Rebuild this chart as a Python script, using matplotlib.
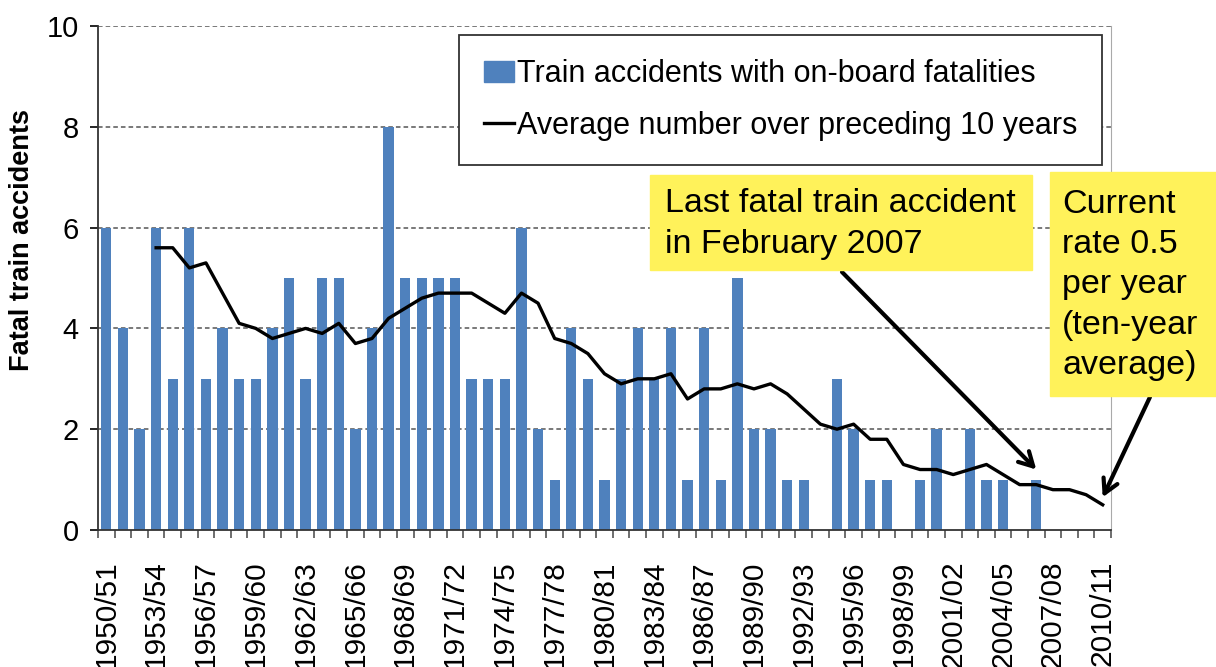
import matplotlib.pyplot as plt
import matplotlib.patches as mpatches
from matplotlib.lines import Line2D
import numpy as np

plt.rcParams['font.family'] = ['Liberation Sans', 'DejaVu Sans']

# saisons 1950/51 .. 2010/11
seasons = ["%d/%02d" % (y, (y + 1) % 100) for y in range(1950, 2011)]

# accidents mortels par saison
accidents = [6, 4, 2, 6, 3, 6, 3, 4, 3, 3,
             4, 5, 3, 5, 5, 2, 4, 8, 5, 5,
             5, 5, 3, 3, 3, 6, 2, 1, 4, 3,
             1, 3, 4, 3, 4, 1, 4, 1, 5, 2,
             2, 1, 1, 0, 3, 2, 1, 1, 0, 1,
             2, 0, 2, 1, 1, 0, 1, 0, 0, 0,
             0]

# moyenne sur les 10 annees precedentes
nan = np.nan
average = [nan, nan, nan, 5.6, 5.6, 5.2, 5.3, 4.7, 4.1, 4.0,
           3.8, 3.9, 4.0, 3.9, 4.1, 3.7, 3.8, 4.2, 4.4, 4.6,
           4.7, 4.7, 4.7, 4.5, 4.3, 4.7, 4.5, 3.8, 3.7, 3.5,
           3.1, 2.9, 3.0, 3.0, 3.1, 2.6, 2.8, 2.8, 2.9, 2.8,
           2.9, 2.7, 2.4, 2.1, 2.0, 2.1, 1.8, 1.8, 1.3, 1.2,
           1.2, 1.1, 1.2, 1.3, 1.1, 0.9, 0.9, 0.8, 0.8, 0.7,
           0.5]

W, H = 1216, 667
fig = plt.figure(figsize=(W / 100, H / 100), dpi=100)
ax = fig.add_axes([98 / W, (H - 530) / H, (1111 - 98) / W, (530 - 26) / H])

x = np.arange(len(seasons))
ax.bar(x, accidents, width=0.62, color='#4F81BD', zorder=2)
ax.plot(x, average, color='black', lw=2.4, zorder=3)

ax.set_xlim(-0.5, len(seasons) - 0.5)
ax.set_ylim(0, 10)
ax.set_yticks(range(0, 11, 2))
ax.tick_params(axis='y', labelsize=21, length=6, width=1.2, direction='out', pad=8)

# etiquettes toutes les 3 saisons, traits entre les barres
ax.set_xticks(x[::3])
ax.set_xticklabels(seasons[::3], rotation=90, fontsize=21.5)
ax.set_xticks(np.arange(-0.5, len(seasons), 1), minor=True)
ax.tick_params(axis='x', which='major', length=0, pad=22)
ax.tick_params(axis='x', which='minor', length=6, width=1.2, color='#555555')

fig.text(22 / W, (H - 240) / H, "Fatal train accidents", rotation=90,
         fontsize=19.5, fontweight='bold', ha='center', va='center')

for v in [2, 4, 6, 8, 10]:
    ax.axhline(v, color='#555555', lw=1.1, linestyle=(0, (3, 2)), zorder=1)

ax.spines['top'].set_visible(False)
ax.spines['right'].set_color('#aaaaaa')
ax.spines['left'].set_color('#333333')
ax.spines['left'].set_linewidth(1.3)
ax.spines['bottom'].set_color('#333333')
ax.spines['bottom'].set_linewidth(1.3)

handles = [mpatches.Patch(color='#4F81BD'), Line2D([], [], color='black', lw=2.4)]
leg = ax.legend(handles, ["Train accidents with on-board fatalities",
                          "Average number over preceding 10 years"],
                loc='upper right', bbox_to_anchor=((1102 - 98) / 1013, 1 - 9 / 504),
                borderaxespad=0, fontsize=22, frameon=True, fancybox=False,
                edgecolor='#333333', handlelength=1.0, handletextpad=0.1,
                labelspacing=0.7, borderpad=0.8, framealpha=1)
leg.get_frame().set_linewidth(1.3)

# encadres jaunes
yellow = '#FFF25A'
fig.patches.append(mpatches.Rectangle((650 / W, (H - 270) / H), 382 / W, 95 / H,
                                      transform=fig.transFigure, color=yellow, zorder=5))
fig.patches.append(mpatches.Rectangle((1050 / W, (H - 396) / H), 166 / W, 224 / H,
                                      transform=fig.transFigure, color=yellow, zorder=5))
fig.text(665 / W, (H - 224) / H, "Last fatal train accident\nin February 2007",
         fontsize=24.5, va='center', ha='left', linespacing=1.38, zorder=6)
fig.text(1062 / W, (H - 285) / H, "Current\nrate 0.5\nper year\n(ten-year\naverage)",
         fontsize=24.5, va='center', ha='left', linespacing=1.38, zorder=6)

arrow = dict(arrowstyle='->,head_length=1.0,head_width=0.55', lw=3, color='black',
             shrinkA=0, shrinkB=0)
ax.annotate("", xy=(56, 1.2), xytext=(842, H - 272), textcoords='figure pixels',
            arrowprops=arrow, annotation_clip=False)
ax.annotate("", xy=(60, 0.65), xytext=(1150, H - 397), textcoords='figure pixels',
            arrowprops=arrow, annotation_clip=False)

plt.savefig('out.png', dpi=100)
